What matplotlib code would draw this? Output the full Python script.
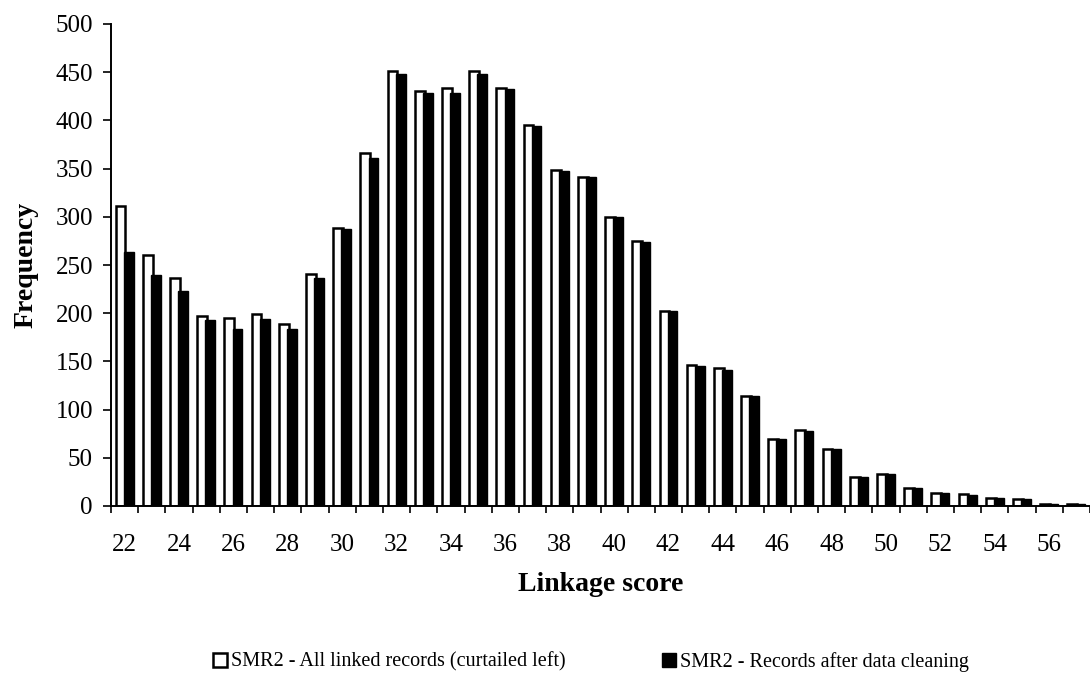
import matplotlib.pyplot as plt
import numpy as np
from matplotlib.patches import Patch

plt.rcParams['font.family'] = ['Liberation Serif', 'DejaVu Serif']

# linkage scores and frequencies
scores = list(range(22, 58))
all_linked = [311, 260, 237, 197, 195, 199, 189, 241, 288, 366,
              451, 431, 434, 451, 434, 395, 349, 341, 300, 275,
              202, 146, 143, 114, 70, 79, 59, 30, 33, 19,
              14, 12, 8, 7, 2, 2]
after_cleaning = [263, 240, 223, 193, 184, 194, 184, 236, 287, 361,
                  448, 428, 428, 448, 433, 394, 348, 341, 300, 274,
                  202, 145, 141, 114, 69, 78, 59, 30, 33, 19,
                  14, 11, 8, 7, 2, 2]
legend_labels = ['SMR2 - All linked records (curtailed left)',
                 'SMR2 - Records after data cleaning']

fig = plt.figure(figsize=(10.9, 6.74), dpi=100)
ax = fig.add_axes([111 / 1090, 1 - 506 / 674, 1 - 111 / 1090, (506 - 24) / 674])

x = np.arange(len(scores))
w = 0.36
ax.bar(x - 0.15, all_linked, width=w, color='white', edgecolor='black', linewidth=1.8)
ax.bar(x + 0.15, after_cleaning, width=w, color='black', edgecolor='black', linewidth=1.0)

ax.set_xlim(-0.5, 35.2)
ax.set_ylim(0, 500)
ax.set_yticks(range(0, 501, 50))
ax.spines['top'].set_visible(False)
ax.spines['right'].set_visible(False)
ax.spines['left'].set_linewidth(1.4)
ax.spines['bottom'].set_linewidth(1.4)

# tick marks between categories, labels on even scores
ax.set_xticks(np.arange(-0.5, 36, 1))
ax.set_xticklabels([])
ax.set_xticks(x[::2], minor=True)
ax.set_xticklabels([str(s) for s in scores[::2]], minor=True)
ax.tick_params(axis='x', which='major', length=5, width=1.2, direction='out')
ax.tick_params(axis='x', which='minor', length=0, pad=20, labelsize=18)
ax.tick_params(axis='y', length=6, width=1.2, labelsize=18, pad=7)

ax.set_ylabel('Frequency', fontsize=20, fontweight='bold', labelpad=12)
ax.set_xlabel('Linkage score', fontsize=20, fontweight='bold', labelpad=12)

handles = [Patch(facecolor='white', edgecolor='black', linewidth=1.8),
           Patch(facecolor='black', edgecolor='black')]
fig.legend(handles, legend_labels, loc='center', bbox_to_anchor=(0.542, 1 - 662 / 674),
           ncol=2, frameon=False, fontsize=14.5, handlelength=0.7, handleheight=0.7,
           handletextpad=0.2, columnspacing=4.8)

fig.savefig('out.png', dpi=100)
